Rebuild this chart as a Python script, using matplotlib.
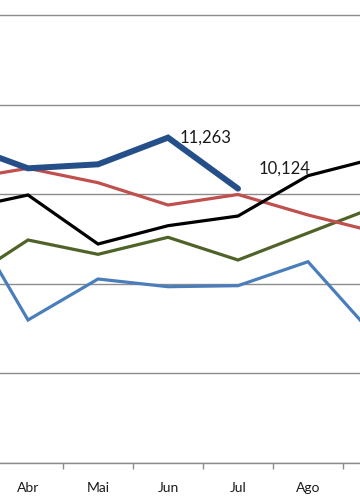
import matplotlib
matplotlib.use("Agg")
import matplotlib.pyplot as plt
from matplotlib.ticker import FixedLocator, NullFormatter

plt.rcParams['font.family'] = ['Lato', 'DejaVu Sans']

# Categories (months, Portuguese)
months = ['Mar', 'Abr', 'Mai', 'Jun', 'Jul', 'Ago', 'Set']

# Series values
serie_azul_escuro = [11150, 10578, 10667, 11263, 10124]          # ends at Jul
serie_vermelha = [10317, 10578, 10257, 9759, 9993, 9536, 9145]
serie_preta = [9647, 9982, 8888, 9297, 9513, 10413, 10815]
serie_verde = [7956, 8978, 8658, 9038, 8531, 9134, 9737]
serie_azul_claro = [9871, 7192, 8107, 7935, 7958, 8493, 6746]

# Labelled points (index into months, value)
label_points = [(3, 11263), (4, 10124)]

y_ticks = [4000, 6000, 8000, 10000, 12000, 14000]

fig = plt.figure(figsize=(3.6, 5.04), dpi=100)
ax = fig.add_axes([0, 41 / 504, 1, 1 - 41 / 504])

x = list(range(len(months)))

ax.set_yticks(y_ticks)
ax.yaxis.grid(True, color='#8c8c8c', linewidth=1.0)
ax.set_axisbelow(True)
ax.tick_params(axis='y', left=False, labelleft=False)

ax.set_xticks(x)
ax.set_xticklabels(months, fontsize=10, color='#1a1a1a')
ax.tick_params(axis='x', which='major', length=0, pad=14)
ax.xaxis.set_minor_locator(FixedLocator([i + 0.5 for i in range(-1, len(months))]))
ax.xaxis.set_minor_formatter(NullFormatter())
ax.tick_params(axis='x', which='minor', length=4, width=1, color='#8c8c8c', direction='out')

for s in ['left', 'right', 'top']:
    ax.spines[s].set_visible(False)
ax.spines['bottom'].set_color('#8c8c8c')
ax.spines['bottom'].set_linewidth(1.0)

ax.plot(x, serie_azul_claro, color='#4a7ebb', linewidth=2.3, solid_joinstyle='miter')
ax.plot(x, serie_verde, color='#4f6228', linewidth=2.3, solid_joinstyle='miter')
ax.plot(x, serie_vermelha, color='#c0504d', linewidth=2.3, solid_joinstyle='miter')
ax.plot(x, serie_preta, color='#000000', linewidth=2.3, solid_joinstyle='miter')
ax.plot(x[:len(serie_azul_escuro)], serie_azul_escuro, color='#254f88', linewidth=4.3,
        solid_joinstyle='miter', solid_capstyle='round')

offsets = [(12, 0), (21, 20)]
for (i, v), (dx, dy) in zip(label_points, offsets):
    ax.annotate(f"{v:,}", xy=(i, v), xytext=(dx, dy), textcoords='offset pixels',
                ha='left', va='center', fontsize=12, color='#1a1a1a')

# Visible window: Abr (index 1) at pixel 28, 70 px per category
px_per_cat = 70.0
x0 = 1 - 28 / px_per_cat
x1 = 1 + (360 - 28) / px_per_cat
ax.set_xlim(x0, x1)
ax.set_ylim(4000, 14000 + 15 / 0.0448)

fig.savefig('out.png', dpi=100)
